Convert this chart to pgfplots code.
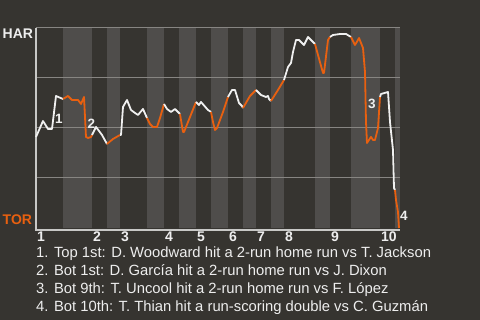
\documentclass[border=0pt]{standalone}
\usepackage{pgfplots}
\pgfplotsset{compat=1.18}
\usepackage{fontspec}
\setmainfont{Liberation Sans}
\definecolor{bg}{RGB}{54,52,48}
\definecolor{band}{RGB}{79,77,75}
\definecolor{gridc}{RGB}{135,133,130}
\definecolor{axc}{RGB}{200,200,198}
\definecolor{org}{RGB}{232,96,16}
\definecolor{wl}{RGB}{240,240,240}
\definecolor{txt}{RGB}{238,238,238}
\begin{document}
\begin{tikzpicture}[x=1pt,y=1pt]
\fill[bg] (0,0) rectangle (480,320);
\begin{axis}[at={(36pt,92pt)}, anchor=south west, scale only axis,
  width=364pt, height=200pt, xmin=0, xmax=364, ymin=0, ymax=100,
  clip=false, axis x line*=bottom, axis y line*=left,
  axis line style={draw=none}, major tick length=0pt, ytick=\empty,
  xtick={0,56,84,128,160,192,220,248,294,344},
  xticklabels={1,2,3,4,5,6,7,8,9,10},
  xticklabel style={anchor=north west, font=\bfseries\fontsize{14}{14}\selectfont, text=txt, inner sep=0pt, xshift=1pt, yshift=-4pt},
  every axis plot/.append style={line width=1.8pt, line join=round}]
\fill[band] (axis cs:27,0) rectangle (axis cs:56,100);
\fill[band] (axis cs:71,0) rectangle (axis cs:84,100);
\fill[band] (axis cs:111,0) rectangle (axis cs:128,100);
\fill[band] (axis cs:143,0) rectangle (axis cs:160,100);
\fill[band] (axis cs:175,0) rectangle (axis cs:192,100);
\fill[band] (axis cs:207,0) rectangle (axis cs:220,100);
\fill[band] (axis cs:235,0) rectangle (axis cs:248,100);
\fill[band] (axis cs:279,0) rectangle (axis cs:294,100);
\fill[band] (axis cs:315,0) rectangle (axis cs:344,100);
\fill[band] (axis cs:359,0) rectangle (axis cs:364,100);
\draw[gridc, line width=1pt] (axis cs:0,25) -- (axis cs:364,25);
\draw[gridc, line width=1pt] (axis cs:0,50) -- (axis cs:364,50);
\draw[gridc, line width=1pt] (axis cs:0,75) -- (axis cs:364,75);
\draw[gridc, line width=1pt] (axis cs:0,100) -- (axis cs:364,100);
\draw[axc, line width=1.2pt] (axis cs:0,100) -- (axis cs:0,-1) -- (axis cs:364,-1);
% top 1st
\addplot[wl] coordinates {(0,45.5) (7,53.5) (12,49.5) (16,49.5) (20,66) (27,64.5)};
% bot 1st
\addplot[org] coordinates {(27,64.5) (32,66) (36,64) (42,64) (45,62) (48,65.5) (50,45.5) (52,45) (55,45.5) (56,46.5)};
% top 2nd
\addplot[wl] coordinates {(56,46.5) (60,50.5) (66,46.5) (71,42)};
% bot 2nd
\addplot[org] coordinates {(71,42) (77,44.5) (84,46.5)};
% top 3rd
\addplot[wl] coordinates {(84,46.5) (85,46.5) (87,60.5) (91,64) (95,59) (99,57.5) (102,56.5) (107,59.5) (111,55)};
% bot 3rd
\addplot[org] coordinates {(111,55) (114,52) (117,50.5) (121,50.5) (124,55) (128,62)};
% top 4th
\addplot[wl] coordinates {(128,62) (131,59.5) (135,58) (139,59.5) (144,57)};
% bot 4th
\addplot[org] coordinates {(144,57) (147,48) (148,48) (154,55.5) (160,63)};
% top 5th
\addplot[wl] coordinates {(160,63) (163,61.5) (165,63) (172,59) (175,58)};
% bot 5th
\addplot[org] coordinates {(175,58) (177,53) (179,49) (181,50) (187,58) (192,65.5)};
% top 6th
\addplot[wl] coordinates {(192,65.5) (196,69) (199,69) (203,62.5) (206,61) (207,60)};
% bot 6th
\addplot[org] coordinates {(207,60) (214,66) (220,69)};
% top 7th
\addplot[wl] coordinates {(220,69) (225,66.5) (230,65.5) (232,66) (233,64.5) (235,63.5)};
% bot 7th
\addplot[org] coordinates {(235,63.5) (242,69) (248,74)};
% top 8th
\addplot[wl] coordinates {(248,74) (252,80.5) (255,82.5) (257,88) (260,94) (263,94) (268,91.5) (272,95.5) (279,92)};
% bot 8th
\addplot[org] coordinates {(279,92) (282,86.5) (287,77.5) (288,77.5) (292,94) (294,95.5)};
% top 9th
\addplot[wl] coordinates {(294,95.5) (297,96.5) (304,97) (310,97) (315,95.5)};
% bot 9th
\addplot[org] coordinates {(315,95.5) (319,91.5) (322,94) (323,95) (327,90) (329,78) (330,53) (331,42.5) (335,45.5) (337,44) (339,44) (342,50) (344,65.5)};
% top 10th
\addplot[wl] coordinates {(344,65.5) (345,67) (352,68) (354,53) (357,39) (358,20) (359,19)};
% bot 10th
\addplot[org] coordinates {(359,19) (360,14) (362,8) (363,0)};
\node[font=\bfseries\fontsize{13.5}{13.5}\selectfont, text=txt] at (axis cs:23,54.5) {1};
\node[font=\bfseries\fontsize{13.5}{13.5}\selectfont, text=txt] at (axis cs:55.5,52) {2};
\node[font=\bfseries\fontsize{13.5}{13.5}\selectfont, text=txt] at (axis cs:336,62) {3};
\node[font=\bfseries\fontsize{13.5}{13.5}\selectfont, text=txt] at (axis cs:368,6) {4};
\end{axis}
\node[font=\bfseries\fontsize{14}{14}\selectfont, text=txt, anchor=west, inner sep=0pt] at (2.5,286) {HAR};
\node[font=\bfseries\fontsize{14}{14}\selectfont, text=org, anchor=west, inner sep=0pt] at (2.5,100) {TOR};
\begin{scope}[every node/.style={anchor=base west, inner sep=0pt, text=txt, font=\fontsize{14.8}{15}\selectfont}]
\node at (36,62) {1. Top 1st: D. Woodward hit a 2-run home run vs T. Jackson};
\node at (36,44) {2. Bot 1st: D. García hit a 2-run home run vs J. Dixon};
\node at (36,26) {3. Bot 9th: T. Uncool hit a 2-run home run vs F. López};
\node at (36,8) {4. Bot 10th: T. Thian hit a run-scoring double vs C. Guzmán};
\end{scope}
\end{tikzpicture}
\end{document}
